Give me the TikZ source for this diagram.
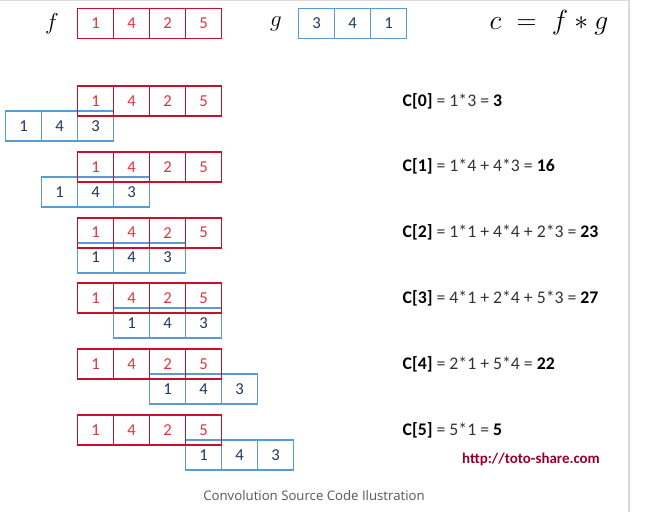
\documentclass[tikz,border=0pt]{standalone}
\usepackage{fontspec}
\setmainfont{Carlito}
\newfontfamily\capfont{Open Sans}
\definecolor{fred}{RGB}{200,16,46}
\definecolor{fnum}{RGB}{222,52,64}
\definecolor{gblue}{RGB}{91,155,213}
\definecolor{gnum}{RGB}{31,56,100}
\definecolor{webred}{RGB}{150,0,40}
\newcommand{\boldnum}[1]{\textbf{\color{black}#1}}

\begin{document}
\begin{tikzpicture}[x=.75pt,y=-.75pt,
   fcell/.style={draw=fred,line width=1.45pt,text=fnum,minimum width=27pt,minimum height=22.5pt,inner sep=0pt,font=\fontsize{12.5}{14}\selectfont},
   gcell/.style={draw=gblue,line width=1.45pt,text=gnum,minimum width=27pt,minimum height=22.5pt,inner sep=0pt,font=\fontsize{12.5}{14}\selectfont},
   eq/.style={anchor=west,text=black!80,font=\fontsize{13.3}{16}\selectfont}]
   \useasboundingbox (0,0) rectangle (661,512);
   \draw[black!14,line width=1.1pt] (0,0.7) -- (629,0.7) -- (629,512);

   \node (fl) at (52,24)  {\fontsize{17}{20}\selectfont$f$};
   \node (gl) at (276,24) {\fontsize{17}{20}\selectfont$g$};
   \node (cl) at (549,23) {\fontsize{22.5}{26}\selectfont$c \;=\; f \ast g$};

   \node[fcell] (f1) at (95.5,23.5)  {1};
   \node[fcell] (f2) at (131.5,23.5) {4};
   \node[fcell] (f3) at (167.5,23.5) {2};
   \node[fcell] (f4) at (203.5,23.5) {5};
   \node[gcell] (g1) at (316.5,23.5) {3};
   \node[gcell] (g2) at (352.5,23.5) {4};
   \node[gcell] (g3) at (388.5,23.5) {1};

   \node[gcell] (b01) at (23.5,126) {1};
   \node[gcell] (b02) at (59.5,126) {4};
   \node[gcell] (b03) at (95.5,126) {3};
   \node[fcell] (r01) at (95.5,101)  {1};
   \node[fcell] (r02) at (131.5,101) {4};
   \node[fcell] (r03) at (167.5,101) {2};
   \node[fcell] (r04) at (203.5,101) {5};

   \node[gcell] (b11) at (59.5,191.8)  {1};
   \node[gcell] (b12) at (95.5,191.8)  {4};
   \node[gcell] (b13) at (131.5,191.8) {3};
   \node[fcell] (r11) at (95.5,166.8)  {1};
   \node[fcell] (r12) at (131.5,166.8) {4};
   \node[fcell] (r13) at (167.5,166.8) {2};
   \node[fcell] (r14) at (203.5,166.8) {5};

   \node[gcell] (b21) at (95.5,257.6)  {1};
   \node[gcell] (b22) at (131.5,257.6) {4};
   \node[gcell] (b23) at (167.5,257.6) {3};
   \node[fcell] (r21) at (95.5,232.6)  {1};
   \node[fcell] (r22) at (131.5,232.6) {4};
   \node[fcell] (r23) at (167.5,232.6) {2};
   \node[fcell] (r24) at (203.5,232.6) {5};

   \node[gcell] (b31) at (131.5,323.4) {1};
   \node[gcell] (b32) at (167.5,323.4) {4};
   \node[gcell] (b33) at (203.5,323.4) {3};
   \node[fcell] (r31) at (95.5,298.4)  {1};
   \node[fcell] (r32) at (131.5,298.4) {4};
   \node[fcell] (r33) at (167.5,298.4) {2};
   \node[fcell] (r34) at (203.5,298.4) {5};

   \node[gcell] (b41) at (167.5,389.2) {1};
   \node[gcell] (b42) at (203.5,389.2) {4};
   \node[gcell] (b43) at (239.5,389.2) {3};
   \node[fcell] (r41) at (95.5,364.2)  {1};
   \node[fcell] (r42) at (131.5,364.2) {4};
   \node[fcell] (r43) at (167.5,364.2) {2};
   \node[fcell] (r44) at (203.5,364.2) {5};

   \node[gcell] (b51) at (203.5,455) {1};
   \node[gcell] (b52) at (239.5,455) {4};
   \node[gcell] (b53) at (275.5,455) {3};
   \node[fcell] (r51) at (95.5,430)  {1};
   \node[fcell] (r52) at (131.5,430) {4};
   \node[fcell] (r53) at (167.5,430) {2};
   \node[fcell] (r54) at (203.5,430) {5};

   \node[eq] (c0) at (398,101)   {\boldnum{C[0]} = 1*3 = \boldnum{3}};
   \node[eq] (c1) at (398,166.8) {\boldnum{C[1]} = 1*4 + 4*3 = \boldnum{16}};
   \node[eq] (c2) at (398,232.6) {\boldnum{C[2]} = 1*1 + 4*4 + 2*3 = \boldnum{23}};
   \node[eq] (c3) at (398,298.4) {\boldnum{C[3]} = 4*1 + 2*4 + 5*3 = \boldnum{27}};
   \node[eq] (c4) at (398,364.2) {\boldnum{C[4]} = 2*1 + 5*4 = \boldnum{22}};
   \node[eq] (c5) at (398,430)   {\boldnum{C[5]} = 5*1 = \boldnum{5}};

   \node (web) at (531,459) {\fontsize{11.2}{13}\selectfont\bfseries\color{webred}http://toto-share.com};
   \node (cap) at (314,496) {\capfont\fontsize{9.9}{12}\selectfont\color{black!66}Convolution Source Code Ilustration};
\end{tikzpicture}
\end{document}
